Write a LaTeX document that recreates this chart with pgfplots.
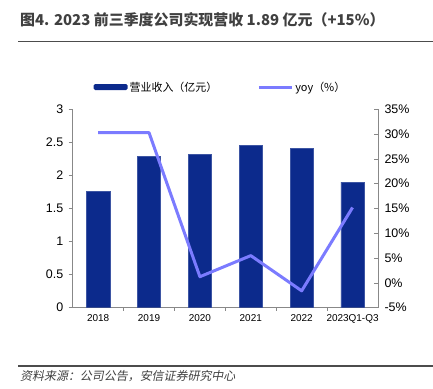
\documentclass[border=0pt]{standalone}
\usepackage{pgfplots}
\pgfplotsset{compat=1.18}
\usepackage{fontspec}
\setmainfont{Liberation Sans}
\newfontfamily\cjk{Noto Sans CJK SC}
\newfontfamily\cjkit[FakeSlant=0.2]{Noto Sans CJK SC}
\definecolor{barblue}{HTML}{0C2A8C}
\definecolor{lineblue}{HTML}{7B7BFF}
\definecolor{axgray}{HTML}{888888}
\definecolor{titlegray}{HTML}{404040}
\begin{document}
\begin{tikzpicture}
\path[use as bounding box] (0,0) rectangle (433bp,389bp);
\node[anchor=west, text=titlegray, font=\cjk\bfseries\fontsize{15}{17}\selectfont, inner sep=0pt] at (20bp,369bp) {图4. 2023 前三季度公司实现营收 1.89 亿元（+15\%）};
\draw[line width=1.3bp, color=black!70] (18bp,347.3bp) -- (433bp,347.3bp);
\draw[line width=1.3bp, color=black!70] (18bp,23bp) -- (433bp,23bp);
\node[anchor=west, text=black!75, font=\cjkit\fontsize{12}{14}\selectfont, inner sep=0pt] at (20bp,13bp) {资料来源：公司公告，安信证券研究中心};
\begin{axis}[
  at={(72.7bp,81.3bp)}, anchor=south west,
  scale only axis, width=305.3bp, height=198.4bp,
  xmin=-0.5, xmax=5.5, ymin=0, ymax=3,
  axis x line*=bottom, axis y line*=left,
  axis line style={color=axgray, line width=0.6bp},
  xtick={0,1,2,3,4,5},
  xticklabels={2018,2019,2020,2021,2022,2023Q1-Q3},
  minor xtick={0.5,1.5,2.5,3.5,4.5},
  major x tick style={draw=none},
  minor x tick style={color=axgray, line width=0.6bp},
  x tick label style={font=\fontsize{10}{12}\selectfont, yshift=-1bp},
  ytick={0,0.5,1,1.5,2,2.5,3},
  yticklabels={0,0.5,1,1.5,2,2.5,3},
  y tick style={color=axgray, line width=0.6bp},
  y tick label style={font=\fontsize{12.5}{14}\selectfont, xshift=-2bp},
  tick align=outside,
  major tick length=4bp, minor tick length=3bp,
  x tick label style={yshift=2bp},
  legend style={at={(0.484,1.112)}, anchor=center, draw=none, fill=none,
    font=\cjk\fontsize{11}{13}\selectfont, legend columns=2,
    /tikz/every even column/.append style={column sep=38bp}},
  legend cell align=left,
]
\addplot[ybar, bar width=23.3bp, fill=barblue, draw=barblue!80!white, line width=0.4bp,
  legend image code/.code={\draw[fill=barblue, draw=none, rounded corners=1.5bp] (0bp,-3bp) rectangle (34bp,3bp);}]
  coordinates {(0,1.755) (1,2.284) (2,2.32) (3,2.45) (4,2.405) (5,1.90)};
\addlegendentry{营业收入（亿元）}
\addlegendimage{line legend, color=lineblue, line width=3bp,
  legend image code/.code={\draw[color=lineblue, line width=3bp] (0bp,0bp) -- (33bp,0bp);}}
\addlegendentry{yoy（\%）}
\end{axis}
\begin{axis}[
  at={(72.7bp,81.3bp)}, anchor=south west,
  scale only axis, width=305.3bp, height=198.4bp,
  xmin=-0.5, xmax=5.5, ymin=-5, ymax=35,
  axis x line=none, axis y line*=right,
  axis line style={color=axgray, line width=0.6bp},
  ytick={-5,0,5,10,15,20,25,30,35},
  yticklabels={-5\%,0\%,5\%,10\%,15\%,20\%,25\%,30\%,35\%},
  y tick style={color=axgray, line width=0.6bp},
  tick align=inside, major tick length=4bp,
  y tick label style={font=\fontsize{12.5}{14}\selectfont, xshift=3bp},
]
\addplot[color=lineblue, line width=3bp, line join=round, mark=none]
  coordinates {(0,30.3) (1,30.3) (2,1.25) (3,5.5) (4,-1.6) (5,15.2)};
\end{axis}
\end{tikzpicture}
\end{document}
